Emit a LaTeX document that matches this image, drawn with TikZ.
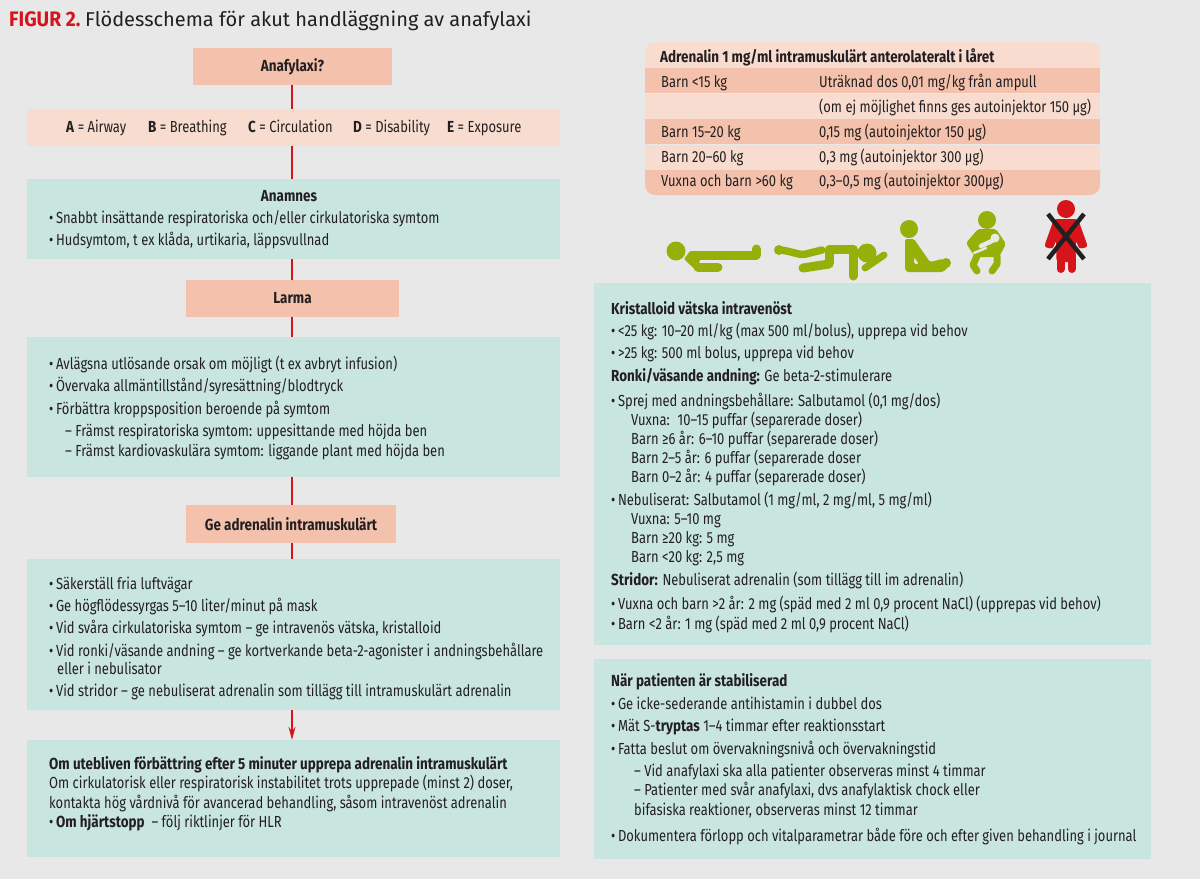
\documentclass[tikz,border=0pt]{standalone}
\usepackage{fontspec}
\setmainfont{Fira Sans}[FakeStretch=0.81,BoldFeatures={FakeStretch=0.84}]
\newfontfamily\titlefont{Fira Sans}[BoldFeatures={FakeStretch=0.92}]
\newfontfamily\headfont{Fira Sans}
\usetikzlibrary{arrows.meta}
\definecolor{pagegrey}{HTML}{E8E8E8}
\definecolor{pinkdark}{HTML}{F4C1AD}
\definecolor{pinklight}{HTML}{F8DCD0}
\definecolor{tealbg}{HTML}{C9E5E0}
\definecolor{alarmred}{HTML}{D7141A}
\definecolor{limbgreen}{HTML}{97B009}
\definecolor{inktext}{HTML}{231F20}
\tikzset{
	flowbox/.style = {inner sep=0pt, text=inktext, font=\fontsize{16}{18}\selectfont\bfseries},
	txt/.style = {anchor=base west, inner sep=0pt, yshift=-5pt, text=inktext, font=\fontsize{16}{18}\selectfont},
	link/.style = {draw=alarmred, line width=1.2pt},
	limb/.style = {draw=limbgreen, line width=9pt, line cap=round, line join=round},
	redlimb/.style = {draw=alarmred, line width=8pt, line cap=round, line join=round}
}
\newcommand{\blt}{\textbullet\,}
\begin{document}
\begin{tikzpicture}[x=1pt,y=-1pt]
	\useasboundingbox (0,0) rectangle (1200,879);
	\fill[pagegrey] (0,0) rectangle (1200,879);

	% title
	\node[txt,text=alarmred,font=\fontsize{21}{22}\selectfont\titlefont\bfseries] (figno) at (9,21) {FIGUR 2.};
	\node[txt,font=\fontsize{20}{22}\selectfont\headfont] (figtitle) at (85,21) {Flödesschema för akut handläggning av anafylaxi};

	% left column
	\node[flowbox,fill=pinkdark,minimum width=199pt,minimum height=37pt] (anafylaxi) at (292.5,66.5) {Anafylaxi?};
	\node[flowbox,fill=pinklight,minimum width=533pt,minimum height=37pt] (abcde) at (293.5,127.5) {};
	\node[flowbox,fill=tealbg,minimum width=533pt,minimum height=80pt] (anamnes) at (293.5,219) {};
	\node[flowbox,fill=pinkdark,minimum width=213pt,minimum height=37pt] (larma) at (292.5,298.5) {Larma};
	\node[flowbox,fill=tealbg,minimum width=533pt,minimum height=140pt] (atgard) at (293.5,407) {};
	\node[flowbox,fill=pinkdark,minimum width=210pt,minimum height=38pt] (adrenalin) at (291,524) {Ge adrenalin intramuskulärt};
	\node[flowbox,fill=tealbg,minimum width=533pt,minimum height=151pt] (luftvag) at (293.5,634.5) {};
	\node[flowbox,fill=tealbg,minimum width=533pt,minimum height=117pt] (upprepa) at (293.5,798.5) {};

	\coordinate (spine) at (292,0);
	\draw[link] (spine |- anafylaxi.south) -- (spine |- abcde.north);
	\draw[link] (spine |- abcde.south) -- (spine |- anamnes.north);
	\draw[link] (spine |- anamnes.south) -- (spine |- larma.north);
	\draw[link] (spine |- larma.south) -- (spine |- atgard.north);
	\draw[link] (spine |- atgard.south) -- (spine |- adrenalin.north);
	\draw[link] (spine |- adrenalin.south) -- (spine |- luftvag.north);
	\draw[link,-{Stealth[length=13pt,width=7pt]}] (spine |- luftvag.south) -- (spine |- upprepa.north);

	\foreach \x/\txtl in {66/{\textbf{A} = Airway},148/{\textbf{B} = Breathing},248/{\textbf{C} = Circulation},353/{\textbf{D} = Disability},447/{\textbf{E} = Exposure}}{
		\node[txt] (abc\x) at (\x,127) {\txtl};
	}
	\node[txt,anchor=base] (anamneshead) at (289,196) {\textbf{Anamnes}};
	\foreach \y/\txtl in {218/{Snabbt insättande respiratoriska och/eller cirkulatoriska symtom},240/{Hudsymtom, t ex klåda, urtikaria, läppsvullnad}}{
		\node[txt] (anam\y) at (49,\y) {\blt\txtl};
	}
	\foreach \y/\txtl in {364/{Avlägsna utlösande orsak om möjligt (t ex avbryt infusion)},386/{Övervaka allmäntillstånd/syresättning/blodtryck},409/{Förbättra kroppsposition beroende på symtom}}{
		\node[txt] (atg\y) at (49,\y) {\blt\txtl};
	}
	\foreach \y/\txtl in {431/{– Främst respiratoriska symtom: uppesittande med höjda ben},451/{– Främst kardiovaskulära symtom: liggande plant med höjda ben}}{
		\node[txt] (atgsub\y) at (65,\y) {\txtl};
	}
	\foreach \y/\txtl in {584/{Säkerställ fria luftvägar},606/{Ge högflödessyrgas 5–10 liter/minut på mask},628/{Vid svåra cirkulatoriska symtom – ge intravenös vätska, kristalloid},651/{Vid ronki/väsande andning – ge kortverkande beta-2-agonister i andningsbehållare},691/{Vid stridor – ge nebuliserat adrenalin som tillägg till intramuskulärt adrenalin}}{
		\node[txt] (luft\y) at (49,\y) {\blt\txtl};
	}
	\node[txt] (luft669) at (57,669) {eller i nebulisator};
	\foreach \y/\txtl in {764/{\textbf{Om utebliven förbättring efter 5 minuter upprepa adrenalin intramuskulärt}},783/{Om cirkulatorisk eller respiratorisk instabilitet trots upprepade (minst 2) doser,},803/{kontakta hög vårdnivå för avancerad behandling, såsom intravenöst adrenalin},822/{\blt\textbf{Om hjärtstopp} ~– följ riktlinjer för HLR}}{
		\node[txt] (upp\y) at (49,\y) {\txtl};
	}

	% dose table
	\fill[pinklight,rounded corners=10pt] (645,42) -- (1100,42) [sharp corners] -- (1100,68) -- (645,68) [rounded corners=10pt] -- cycle;
	\fill[pinkdark] (645,68) rectangle (1100,93);
	\fill[pinklight] (645,93.5) rectangle (1100,119);
	\fill[pinkdark] (645,119) rectangle (1100,144);
	\fill[pinklight] (645,144.5) rectangle (1100,170);
	\fill[pinkdark,rounded corners=10pt] (645,170) [sharp corners] -- (1100,170) [rounded corners=10pt] -- (1100,195) -- (645,195) [sharp corners] -- cycle;
	\node[txt] (dosehead) at (660,57) {\textbf{Adrenalin 1 mg/ml intramuskulärt anterolateralt i låret}};
	\foreach \y/\txtl in {82/{Barn <15 kg},132/{Barn 15–20 kg},157/{Barn 20–60 kg},181/{Vuxna och barn >60 kg}}{
		\node[txt] (who\y) at (661,\y) {\txtl};
	}
	\foreach \y/\txtl in {82/{Uträknad dos 0,01 mg/kg från ampull},107/{(om ej möjlighet finns ges autoinjektor 150 µg)},132/{0,15 mg (autoinjektor 150 µg)},157/{0,3 mg (autoinjektor 300 µg)},181/{0,3–0,5 mg (autoinjektor 300µg)}}{
		\node[txt] (dose\y) at (819,\y) {\txtl};
	}

	% positions, green figures
	\fill[limbgreen] (676,251) circle (9.5);
	\fill[limbgreen,rounded corners=1pt] (684,259) -- (690,251) -- (700,251) -- (700,260) -- (697,271.5) -- cycle;
	\draw[limb] (756,249) -- (756,255) -- (696,255);
	\draw[limb] (698,267) -- (718,267);
	\fill[limbgreen] (779,250) circle (5);
	\draw[limb,line width=7.5pt] (780,250) .. controls (792,251) and (800,256) .. (806,254) -- (822,250);
	\draw[limb] (829,263) -- (829,249) -- (853,249) -- (853,276);
	\draw[limb] (829,264) -- (803,268);
	\fill[limbgreen] (867,253) circle (9.5);
	\draw[limb,line width=7pt] (865,268) -- (884,255);
	\fill[limbgreen] (909,229) circle (9);
	\fill[limbgreen,even odd rule,rounded corners=1.5pt] (905,239) -- (914,239) -- (930,262) -- (942,259) -- (951,264) -- (943,272) -- (907,272) -- (905,270) -- cycle (914,257) -- (919,264) -- (914,264) -- cycle;
	\fill[limbgreen] (946,263) circle (5);
	\fill[limbgreen] (987,220) circle (9);
	\fill[limbgreen,rounded corners=2pt] (978,229) -- (996,229) -- (1006,244) -- (999,257) -- (975,257) -- (966,243) -- cycle;
	\draw[limb,line width=7pt] (977,256) -- (973,265) -- (977,271);
	\draw[limb,line width=7pt] (997,256) -- (997,264) -- (992,271);
	\draw[pagegrey,line width=4.5pt,line cap=round] (992,241) -- (981,246);
	\fill[pagegrey] (995,238) circle (4.5);
	\draw[pagegrey,line width=2.5pt,line cap=round] (974,253) -- (986,248);

	% red figure, not to stand
	\fill[alarmred] (1066,209) circle (9);
	\fill[alarmred,rounded corners=3pt] (1054,219) -- (1078,219) -- (1088,247) -- (1079,249) -- (1076,240) -- (1075.5,262) -- (1056.5,262) -- (1056,240) -- (1053,249) -- (1044,247) -- cycle;
	\draw[redlimb] (1060.5,255) -- (1060.5,269);
	\draw[redlimb] (1071.5,255) -- (1071.5,269);
	\draw[inktext,line width=4.5pt] (1048,214) -- (1084,259);
	\draw[inktext,line width=4.5pt] (1084,214) -- (1048,259);

	% right column
	\node[flowbox,fill=tealbg,minimum width=557pt,minimum height=362pt] (kristalloid) at (872.5,464) {};
	\node[flowbox,fill=tealbg,minimum width=557pt,minimum height=200pt] (stabil) at (872.5,759) {};
	\foreach \y/\txtl in {309/{\textbf{Kristalloid vätska intravenöst}},331/{\blt <25 kg: 10–20 ml/kg (max 500 ml/bolus), upprepa vid behov},353/{\blt >25 kg: 500 ml bolus, upprepa vid behov},376/{\textbf{Ronki/väsande andning:} Ge beta-2-stimulerare},401/{\blt Sprej med andningsbehållare: Salbutamol (0,1 mg/dos)},500/{\blt Nebuliserat: Salbutamol (1 mg/ml, 2 mg/ml, 5 mg/ml)},580/{\textbf{Stridor:} Nebuliserat adrenalin (som tillägg till im adrenalin)},604/{\blt Vuxna och barn >2 år: 2 mg (späd med 2 ml 0,9 procent NaCl) (upprepas vid behov)},624/{\blt Barn <2 år: 1 mg (späd med 2 ml 0,9 procent NaCl)}}{
		\node[txt] (krist\y) at (611,\y) {\txtl};
	}
	\foreach \y/\txtl in {420/{Vuxna: ~10–15 puffar (separerade doser)},439/{Barn ≥6 år: 6–10 puffar (separerade doser)},458/{Barn 2–5 år: 6 puffar (separerade doser},477/{Barn 0–2 år: 4 puffar (separerade doser)},519/{Vuxna: 5–10 mg},538/{Barn ≥20 kg: 5 mg},557/{Barn <20 kg: 2,5 mg}}{
		\node[txt] (kristsub\y) at (631,\y) {\txtl};
	}
	\foreach \y/\txtl in {681/{\textbf{När patienten är stabiliserad}},704/{\blt Ge icke-sederande antihistamin i dubbel dos},726/{\blt Mät S-\textbf{tryptas} 1–4 timmar efter reaktionsstart},749/{\blt Fatta beslut om övervakningsnivå och övervakningstid},836/{\blt Dokumentera förlopp och vitalparametrar både före och efter given behandling i journal}}{
		\node[txt] (stab\y) at (611,\y) {\txtl};
	}
	\foreach \y/\txtl in {771/{– Vid anafylaxi ska alla patienter observeras minst 4 timmar},790/{– Patienter med svår anafylaxi, dvs anafylaktisk chock eller},810/{bifasiska reaktioner, observeras minst 12 timmar}}{
		\node[txt] (stabsub\y) at (634,\y) {\txtl};
	}
\end{tikzpicture}
\end{document}
